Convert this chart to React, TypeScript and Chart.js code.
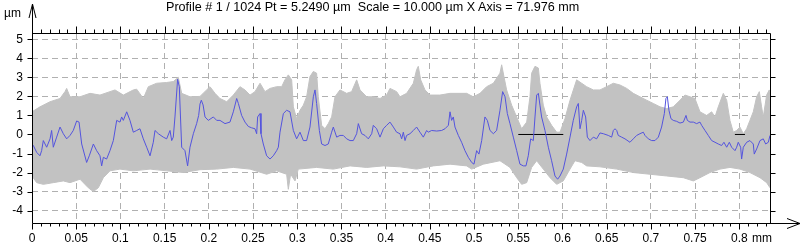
import React, { useEffect, useRef } from 'react';
import { Chart, registerables } from 'chart.js';

Chart.register(...registerables);

const FONT = "'Liberation Sans', Arial, Helvetica, sans-serif";

const titleText = 'Profile # 1 / 1024 Pt = 5.2490 µm  Scale = 10.000 µm X Axis = 71.976 mm';
const yUnit = 'µm';
const xUnit = 'mm';

const xTicks = [0, 0.05, 0.1, 0.15, 0.2, 0.25, 0.3, 0.35, 0.4, 0.45, 0.5, 0.55, 0.6, 0.65, 0.7, 0.75, 0.8];
const xTickLabels = ['0', '0.05', '0.1', '0.15', '0.2', '0.25', '0.3', '0.35', '0.4', '0.45', '0.5', '0.55', '0.6', '0.65', '0.7', '0.75', '0.8'];
const yTicks = [-4, -3, -2, -1, 0, 1, 2, 3, 4, 5];
const yTickLabels = ['-4', '-3', '-2', '-1', '0', '1', '2', '3', '4', '5'];

const X_MIN = 0;
const X_MAX = 0.8347;
const Y_MIN = -4.65;
const Y_MAX = 5.33;

// Selected profile (blue)
const profileX = [
  0, 0.0015, 0.0053, 0.009, 0.0109, 0.0128, 0.0166, 0.0204, 0.0222, 0.0241, 0.0279, 0.0317, 0.0354, 0.0392, 0.043, 0.0467,
  0.0505, 0.0532, 0.0562, 0.0618, 0.0648, 0.0694, 0.0731, 0.0769, 0.0788, 0.0807, 0.0844, 0.0882, 0.092, 0.0958, 0.0995,
  0.1014, 0.1033, 0.1071, 0.1108, 0.1146, 0.1184, 0.1221, 0.1259, 0.1297, 0.1335, 0.1372, 0.1391, 0.1429, 0.1485, 0.1523,
  0.1561, 0.158, 0.1598, 0.1617, 0.1647, 0.1666, 0.1693, 0.173, 0.176, 0.1787, 0.1825, 0.1862, 0.1885, 0.19, 0.1915, 0.1935,
  0.1957, 0.1994, 0.2051, 0.2089, 0.2126, 0.2183, 0.2239, 0.2277, 0.2315, 0.2334, 0.2371, 0.2409, 0.2447, 0.2484, 0.2522,
  0.2541, 0.2552, 0.2579, 0.259, 0.2616, 0.2654, 0.2692, 0.2729, 0.2767, 0.2786, 0.2805, 0.2843, 0.288, 0.2918, 0.2956,
  0.2993, 0.3031, 0.3069, 0.3106, 0.3144, 0.3182, 0.3201, 0.3219, 0.325, 0.3276, 0.3314, 0.3351, 0.3389, 0.3408, 0.3446,
  0.3483, 0.3521, 0.3559, 0.3597, 0.3634, 0.3672, 0.3691, 0.3728, 0.3766, 0.3804, 0.3842, 0.386, 0.3898, 0.3936, 0.3974,
  0.4011, 0.4049, 0.4087, 0.4124, 0.4162, 0.4181, 0.42, 0.4219, 0.4237, 0.4275, 0.4313, 0.435, 0.4388, 0.4426, 0.4464,
  0.4482, 0.452, 0.4577, 0.4633, 0.4671, 0.4709, 0.4728, 0.4746, 0.4765, 0.4784, 0.4822, 0.4859, 0.4897, 0.4935, 0.4973,
  0.4999, 0.5029, 0.5055, 0.5086, 0.5123, 0.515, 0.518, 0.5218, 0.5255, 0.5293, 0.5323, 0.535, 0.5376, 0.5406, 0.5444,
  0.5482, 0.5519, 0.5557, 0.5587, 0.5613, 0.564, 0.567, 0.5689, 0.5708, 0.5727, 0.5745, 0.5764, 0.5802, 0.584, 0.5877,
  0.5915, 0.5945, 0.5972, 0.6009, 0.6047, 0.6085, 0.6122, 0.616, 0.6179, 0.6198, 0.6217, 0.6236, 0.6262, 0.6281, 0.6311,
  0.6349, 0.6386, 0.6424, 0.6462, 0.6518, 0.6556, 0.6575, 0.6594, 0.6613, 0.6631, 0.6669, 0.6707, 0.6763, 0.6801, 0.6839,
  0.6876, 0.6914, 0.6933, 0.6971, 0.7008, 0.7046, 0.7084, 0.7121, 0.7152, 0.717, 0.7186, 0.7204, 0.7227, 0.7253, 0.7291,
  0.7329, 0.7367, 0.7397, 0.7412, 0.7442, 0.748, 0.7517, 0.7555, 0.7574, 0.7612, 0.7649, 0.7687, 0.7725, 0.7762, 0.78,
  0.7826, 0.7857, 0.7887, 0.7913, 0.7951, 0.797, 0.7988, 0.8015, 0.8026, 0.8045, 0.8083, 0.812, 0.8158, 0.8169, 0.8196,
  0.8234, 0.8271, 0.8298, 0.8328, 0.8347,
];
const profileY = [
  -0.5, -0.58, -0.94, -1.12, -0.85, -0.32, -0.67, -0.23, 0.21, -0.67, -0.14, 0.39, 0.04, -0.23, -0.05, 0.21,
  0.71, 0.65, -0.5, -1.47, -1.12, -0.5, -0.85, -1.12, -1.65, -1.2, -1.29, -0.85, -0.32, 0.74, 0.65,
  0.92, 0.74, 1.19, 0.74, 0.12, 0.21, 0.3, -0.23, -0.67, -1.12, -0.41, 0.21, 0.04, -0.14, -0.23,
  0.21, -0.32, -0.14, 0.92, 2.9, 2.51, -0.67, -0.85, -1.65, -0.67, 0.04, 0.57, 1.0, 1.6, 1.8, 1.55,
  0.92, 0.74, 0.92, 0.74, 0.74, 0.57, 0.65, 1.19, 1.89, 1.63, 1.0, 0.65, 0.42, 0.35, 0.3,
  0.04, 0.92, 1.1, 0.04, -0.5, -1.12, -1.29, -1.12, -0.85, -0.67, 0.12, 1.1, 1.27, 1.19, 0.21,
  -0.23, 0.12, -0.32, -0.32, 0.39, 1.98, 2.34, 1.63, 0.21, -0.5, -0.58, -0.5, 0.12, 0.39, -0.14,
  -0.05, -0.05, -0.23, -0.32, -0.32, 0.04, 0.57, 0.04, -0.05, -0.23, 0.04, 0.48, 0.3, -0.14, 0.3,
  0.48, 0.65, 0.39, 0.12, 0.04, -0.23, 0.12, -0.32, -0.05, 0.04, 0.21, 0.39, 0.12, -0.14, 0.21,
  0.12, 0.21, 0.18, 0.21, 0.3, 0.48, 1.19, 0.74, 0.92, 0.39, -0.05, -0.41, -0.85, -1.2, -1.47,
  -1.56, -0.85, -1.03, -0.32, 0.92, 0.74, 0.21, 0.04, 0.21, 1.27, 2.25, 1.98, 1.1, 0.57, -0.14,
  -0.85, -1.56, -1.65, -1.65, -1.12, -0.23, -0.32, 0.92, 2.07, 2.16, 1.54, 0.92, 0.21, -0.67, -1.38,
  -2.18, -2.35, -2.18, -1.82, -1.03, -0.14, 0.74, 1.45, 1.63, 0.3, 0.74, 1.27, 0.92, -0.14, -0.32,
  -0.14, -0.23, 0.08, 0.04, -0.05, -0.14, 0.21, 0.3, 0.21, -0.05, -0.14, -0.23, -0.41, -0.23, -0.05,
  0.04, 0.12, -0.05, -0.23, -0.32, -0.32, -0.14, 0.39, 1.1, 1.89, 1.98, 1.27, 0.83, 0.74, 0.69,
  0.6, 0.65, 1.0, 0.74, 0.65, 0.65, 0.57, 0.65, 0.48, 0.21, -0.05, -0.32, -0.41, -0.5, -0.58,
  -0.41, -0.67, -0.41, -0.67, -0.85, -0.67, -0.41, -0.67, -1.29, -0.67, -0.41, -0.32, -0.5, -1.03, -0.76,
  -0.32, -0.23, -0.5, -0.41, -0.05,
];

// Envelope of all 1024 profiles (grey band)
const bandUpperX = [
  0, 0.009, 0.0204, 0.0317, 0.0373, 0.0392, 0.043, 0.0543, 0.0656, 0.0769, 0.0882, 0.0939, 0.1033, 0.1146, 0.1184, 0.1259,
  0.1316, 0.141, 0.1523, 0.1598, 0.1655, 0.1693, 0.1787, 0.19, 0.1975, 0.2013, 0.207, 0.2126, 0.2202, 0.2277, 0.2352,
  0.2409, 0.2466, 0.2522, 0.2579, 0.2635, 0.2692, 0.2767, 0.2824, 0.2861, 0.2899, 0.2937, 0.2956, 0.2993, 0.3031, 0.3069,
  0.3106, 0.3144, 0.3182, 0.3219, 0.3238, 0.3276, 0.3314, 0.3351, 0.3389, 0.3427, 0.3483, 0.3559, 0.3615, 0.3672, 0.371,
  0.3785, 0.386, 0.3936, 0.4011, 0.4049, 0.4124, 0.4162, 0.4237, 0.4313, 0.435, 0.4369, 0.4396, 0.4445, 0.4501, 0.4614,
  0.4728, 0.4916, 0.4991, 0.5067, 0.5142, 0.5218, 0.5293, 0.5312, 0.5338, 0.5368, 0.5425, 0.5482, 0.5538, 0.5595, 0.5632,
  0.5651, 0.5689, 0.5727, 0.5745, 0.5783, 0.5821, 0.5877, 0.5934, 0.5972, 0.6028, 0.6085, 0.616, 0.6217, 0.6273, 0.6349,
  0.6424, 0.6499, 0.6575, 0.665, 0.6726, 0.6801, 0.6876, 0.6952, 0.7027, 0.7103, 0.7178, 0.7253, 0.7329, 0.7385, 0.7442,
  0.7498, 0.7555, 0.763, 0.7687, 0.7725, 0.7762, 0.7819, 0.7857, 0.7894, 0.7932, 0.797, 0.8007, 0.8045, 0.8083, 0.812,
  0.8158, 0.8196, 0.8226, 0.8252, 0.8271, 0.8309, 0.8339, 0.8347,
];
const bandUpperY = [
  1.19, 1.45, 1.72, 1.89, 2.25, 2.42, 1.98, 1.98, 2.16, 2.07, 2.25, 2.34, 2.07, 2.34, 2.38, 1.89,
  2.51, 2.69, 2.73, 2.78, 3.0, 2.16, 1.98, 2.0, 2.34, 2.51, 2.16, 1.89, 1.72, 2.07, 2.51,
  2.34, 2.07, 2.25, 2.69, 2.25, 2.42, 2.51, 2.51, 2.87, 3.13, 2.87, 1.45, 0.83, 1.27, 1.54,
  1.98, 3.04, 3.31, 3.22, 1.98, 0.48, 0.3, 0.57, 0.92, 1.98, 2.34, 2.16, 2.25, 2.87, 2.34,
  1.98, 1.98, 1.89, 2.07, 2.42, 2.25, 1.98, 2.16, 2.69, 3.4, 3.58, 2.87, 2.34, 2.07, 2.07,
  2.16, 2.16, 1.98, 2.16, 2.51, 2.69, 3.22, 3.66, 3.04, 2.34, 1.54, 0.92, 0.3, 0.65, 1.98,
  3.22, 3.58, 3.49, 2.69, 1.54, 0.92, 0.48, 0.12, 0.12, 0.83, 1.8, 2.87, 2.69, 2.51, 2.34,
  2.34, 2.51, 2.69, 2.6, 2.42, 2.16, 1.98, 1.8, 1.63, 1.45, 1.36, 1.45, 1.8, 2.07, 1.98,
  1.89, 1.19, 1.0, 1.19, 0.92, 1.45, 2.16, 1.8, 0.74, 0.12, 0.21, 0.39, 0.04, 0.3, 0.74,
  1.19, 1.98, 2.25, 1.45, 0.92, 2.07, 2.34, 1.8,
];
const bandLowerX = [
  0, 0.0053, 0.0128, 0.0241, 0.0354, 0.043, 0.0543, 0.0637, 0.0694, 0.075, 0.0807, 0.0882, 0.0995, 0.1146, 0.1335, 0.1523,
  0.1712, 0.19, 0.2089, 0.2277, 0.2466, 0.2654, 0.2767, 0.288, 0.2899, 0.2925, 0.2975, 0.3012, 0.3219, 0.3408, 0.3597,
  0.3785, 0.3974, 0.4162, 0.435, 0.4539, 0.4728, 0.4916, 0.4973, 0.5105, 0.5293, 0.5406, 0.5482, 0.5538, 0.5595, 0.5651,
  0.5708, 0.5783, 0.5859, 0.5934, 0.6009, 0.6085, 0.6141, 0.6217, 0.6273, 0.6424, 0.6613, 0.6801, 0.699, 0.7178, 0.7367,
  0.748, 0.7555, 0.7668, 0.7781, 0.7894, 0.8007, 0.812, 0.8234, 0.8309, 0.8347,
];
const bandLowerY = [
  -2.18, -2.53, -2.62, -2.53, -2.44, -2.53, -2.35, -2.8, -3.0, -2.8, -2.27, -1.91, -1.82, -1.91, -1.82, -1.91,
  -2.0, -1.85, -1.82, -1.73, -1.82, -2.09, -1.91, -2.09, -2.88, -2.09, -2.44, -1.82, -1.73, -1.82, -1.65,
  -1.73, -1.65, -1.7, -1.82, -1.65, -1.56, -1.65, -1.82, -1.56, -1.38, -1.73, -2.27, -2.62, -2.53, -1.73,
  -1.38, -1.82, -2.27, -2.62, -2.44, -1.82, -1.38, -1.47, -1.65, -1.7, -1.82, -2.0, -2.09, -2.18, -2.27,
  -2.44, -2.27, -2.0, -1.82, -1.73, -1.82, -2.0, -2.27, -2.53, -2.8,
];

// Zero-line markers visible in the reference
const zeroMarkAX = [0.55, 0.6009];
const zeroMarkBX = [0.795, 0.8064];
const zeroLevel = 0;

const toPts = (xs: number[], ys: number[]) => xs.map((x, i) => ({ x, y: ys[i] }));

const framePlugin = {
  id: 'profileFrame',
  afterDraw(chart: any) {
    const { ctx, chartArea: a, scales } = chart;
    const xs = scales.x;
    const ys = scales.y;
    const L = Math.round(a.left) + 0.5;
    const R = Math.round(a.right) + 0.5;
    const T = Math.round(a.top) + 0.5;
    const B = Math.round(a.bottom) + 0.5;
    ctx.save();
    ctx.strokeStyle = '#000';
    ctx.lineWidth = 1;
    ctx.setLineDash([]);
    ctx.beginPath();
    ctx.moveTo(L, T);
    ctx.lineTo(R, T);
    ctx.lineTo(R, B);
    ctx.moveTo(L, B);
    ctx.lineTo(L, 4);
    ctx.moveTo(L - 3.5, 18);
    ctx.lineTo(L, 4);
    ctx.lineTo(L + 3.5, 18);
    ctx.moveTo(L, B);
    ctx.lineTo(800, B);
    ctx.moveTo(787, B - 5);
    ctx.lineTo(800, B);
    ctx.lineTo(787, B + 5);
    for (let i = 0; i <= Math.floor(X_MAX * 100); i++) {
      const px = Math.round(xs.getPixelForValue(i / 100)) + 0.5;
      const major = i % 5 === 0;
      ctx.moveTo(px, T);
      ctx.lineTo(px, T - (major ? 7 : 4));
      ctx.moveTo(px, B);
      ctx.lineTo(px, B + (major ? 6 : 3));
    }
    for (const v of yTicks) {
      const py = Math.round(ys.getPixelForValue(v)) + 0.5;
      ctx.moveTo(L - 5, py);
      ctx.lineTo(L, py);
      ctx.moveTo(R, py);
      ctx.lineTo(R + 5, py);
    }
    ctx.stroke();
    ctx.restore();
  },
};

export default function App() {
  const canvasRef = useRef<HTMLCanvasElement | null>(null);

  useEffect(() => {
    document.body.style.margin = '0';
    const canvas = canvasRef.current;
    if (!canvas) return;
    const grey = 'rgb(194,194,194)';
    const chart = new Chart(canvas, {
      type: 'line',
      data: {
        datasets: [
          {
            label: 'profile',
            data: toPts(profileX, profileY),
            borderColor: 'rgb(84,84,222)',
            borderWidth: 1,
            pointRadius: 0,
            fill: false,
            tension: 0,
          },
          {
            label: 'zeroA',
            data: zeroMarkAX.map((x) => ({ x, y: zeroLevel })),
            borderColor: '#000',
            borderWidth: 1,
            pointRadius: 0,
            fill: false,
          },
          {
            label: 'zeroB',
            data: zeroMarkBX.map((x) => ({ x, y: zeroLevel })),
            borderColor: '#000',
            borderWidth: 1,
            pointRadius: 0,
            fill: false,
          },
          {
            label: 'upper',
            data: toPts(bandUpperX, bandUpperY),
            borderColor: grey,
            backgroundColor: grey,
            borderWidth: 1,
            pointRadius: 0,
            fill: '+1',
            tension: 0,
          },
          {
            label: 'lower',
            data: toPts(bandLowerX, bandLowerY),
            borderColor: grey,
            backgroundColor: grey,
            borderWidth: 1,
            pointRadius: 0,
            fill: false,
            tension: 0,
          },
        ],
      } as any,
      options: {
        responsive: false,
        animation: false,
        devicePixelRatio: 1,
        layout: { padding: { left: 0, right: 32, top: 33, bottom: 0 } },
        plugins: {
          legend: { display: false },
          tooltip: { enabled: false },
          title: { display: false },
        },
        scales: {
          x: {
            type: 'linear',
            min: X_MIN,
            max: X_MAX,
            afterBuildTicks: (s: any) => {
              s.ticks = xTicks.map((v) => ({ value: v }));
            },
            afterFit: (s: any) => {
              s.height = 25;
            },
            ticks: {
              autoSkip: false,
              maxRotation: 0,
              minRotation: 0,
              padding: 8,
              color: '#000',
              font: { family: FONT, size: 12 },
              callback: (_v: any, i: number) => xTickLabels[i],
            },
            grid: { color: 'rgb(176,176,176)', lineWidth: 1, drawTicks: false },
            border: { display: false, dash: [6, 4] },
          },
          y: {
            type: 'linear',
            min: Y_MIN,
            max: Y_MAX,
            afterBuildTicks: (s: any) => {
              s.ticks = yTicks.map((v) => ({ value: v }));
            },
            afterFit: (s: any) => {
              s.width = 32;
            },
            ticks: {
              padding: 9,
              color: '#000',
              font: { family: FONT, size: 12 },
              callback: (_v: any, i: number) => yTickLabels[i],
            },
            grid: { color: 'rgb(176,176,176)', lineWidth: 1, drawTicks: false },
            border: { display: false, dash: [6, 4] },
          },
        },
      } as any,
      plugins: [framePlugin],
    });
    return () => chart.destroy();
  }, []);

  const textStyle: React.CSSProperties = {
    position: 'absolute',
    fontFamily: FONT,
    fontSize: 12,
    lineHeight: '14px',
    color: '#000',
    whiteSpace: 'pre',
  };

  return (
    <div style={{ position: 'relative', width: 802, height: 248, background: '#fff' }}>
      <canvas ref={canvasRef} width={802} height={248} style={{ display: 'block', width: 802, height: 248 }} />
      <div style={{ ...textStyle, left: 166, top: 0, fontSize: 12.6 }}>{titleText}</div>
      <div style={{ ...textStyle, left: 4, top: 6 }}>{yUnit}</div>
      <div style={{ ...textStyle, left: 752, top: 231 }}>{xUnit}</div>
    </div>
  );
}
